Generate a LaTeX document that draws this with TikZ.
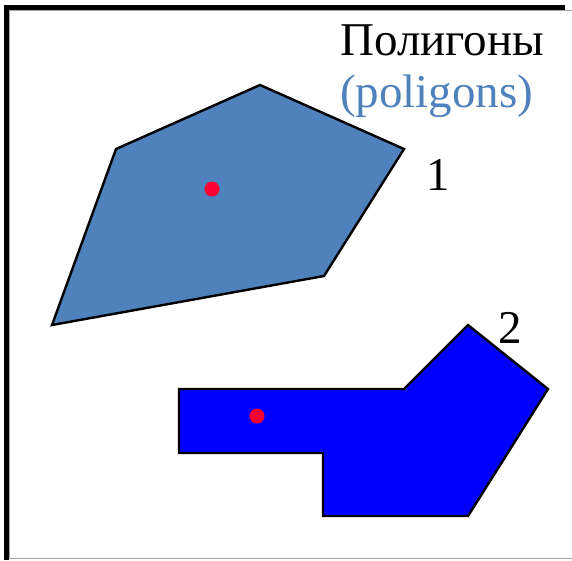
\documentclass[tikz,border=0pt]{standalone}
\usepackage{fontspec}
\setmainfont{Liberation Serif}
\usetikzlibrary{positioning}
\definecolor{polyblue}{HTML}{4F81BD}
\definecolor{puredblue}{HTML}{0000FF}
\definecolor{dotred}{HTML}{FF0033}
\tikzset{
    poly/.style={draw=black, line width=2.4pt, line join=miter},
    centre/.style={circle, fill=dotred, inner sep=0pt, minimum size=15pt},
    label/.style={anchor=base west, inner sep=0pt, font=\fontsize{47}{47}\selectfont},
    frame/.style={line width=5pt, black},
    shade/.style={line width=1.5pt, black!35}
}
\begin{document}
\begin{tikzpicture}[x=1pt, y=-1pt]
\useasboundingbox (0,0) rectangle (572,560);

% Frame
\draw [shade] (9.5,558.5) -- (9.5,10.5) -- (572,10.5);
\draw [shade] (9.5,558.5) -- (572,558.5);
\draw [frame] (6.5,560) -- (6.5,7.5) -- (565,7.5);

% Polygons
\draw [poly, fill=polyblue] (116,149) -- (260,85) -- (404,149) -- (324,276) -- (52,325) -- cycle;
\draw [poly, fill=puredblue] (179,389) -- (404,389) -- (468,325) -- (548,389) -- (468,516)
    -- (323,516) -- (323,453) -- (179,453) -- cycle;

% Nodes
\node (c1) [centre] at (212,189) {};
\node (c2) [centre] at (257,416) {};
\node (title) [label] at (340,55) {Полигоны};
\node (subtitle) [label, text=polyblue] at (340,107) {(poligons)};
\node (n1) [label] at (426,190) {1};
\node (n2) [label] at (498,343) {2};

\end{tikzpicture}
\end{document}
